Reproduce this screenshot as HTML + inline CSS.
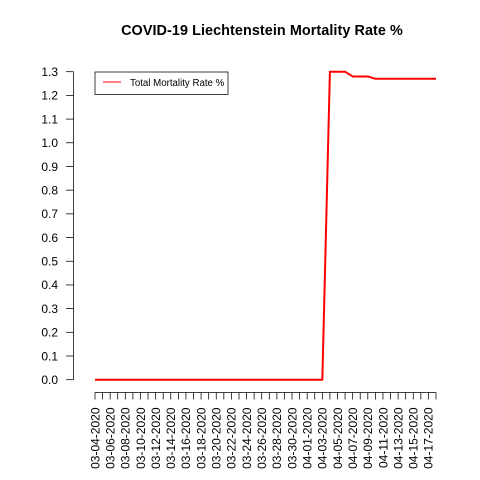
<!DOCTYPE html>
<html>
<head>
<meta charset="utf-8">
<title>COVID-19 Liechtenstein Mortality Rate %</title>
<style>
html,body{margin:0;padding:0;background:#fff;width:480px;height:480px;overflow:hidden}
svg{display:block}
text{font-family:"Liberation Sans",sans-serif;fill:#000}
</style>
</head>
<body>
<svg id="chart" xmlns="http://www.w3.org/2000/svg" width="480" height="480" viewBox="0 0 480 480">
<rect x="0" y="0" width="480" height="480" fill="#fff"/>
<text x="262" y="35" text-anchor="middle" font-size="14.4" font-weight="bold" letter-spacing="0.07">COVID-19 Liechtenstein Mortality Rate %</text>
<g id="y-axis"></g>
<g id="x-axis"></g>
<g id="series"></g>
<g>
<rect x="95" y="72" width="133" height="22.5" fill="#fff" stroke="#000" stroke-width="0.75"/>
<line x1="103" y1="82" x2="121" y2="82" stroke="#ff0000" stroke-width="1"/>
<text x="130" y="86" font-size="9.7">Total Mortality Rate %</text>
</g>
</svg>
<script>
const dates = ["03-04-2020","03-05-2020","03-06-2020","03-07-2020","03-08-2020","03-09-2020","03-10-2020","03-11-2020","03-12-2020","03-13-2020","03-14-2020","03-15-2020","03-16-2020","03-17-2020","03-18-2020","03-19-2020","03-20-2020","03-21-2020","03-22-2020","03-23-2020","03-24-2020","03-25-2020","03-26-2020","03-27-2020","03-28-2020","03-29-2020","03-30-2020","03-31-2020","04-01-2020","04-02-2020","04-03-2020","04-04-2020","04-05-2020","04-06-2020","04-07-2020","04-08-2020","04-09-2020","04-10-2020","04-11-2020","04-12-2020","04-13-2020","04-14-2020","04-15-2020","04-16-2020","04-17-2020","04-18-2020"];
const mortalityRate = [0,0,0,0,0,0,0,0,0,0,0,0,0,0,0,0,0,0,0,0,0,0,0,0,0,0,0,0,0,0,0,1.3,1.3,1.3,1.28,1.28,1.28,1.27,1.27,1.27,1.27,1.27,1.27,1.27,1.27,1.27];
const yTickLabels = ["0.0","0.1","0.2","0.3","0.4","0.5","0.6","0.7","0.8","0.9","1.0","1.1","1.2","1.3"];

const NS = "http://www.w3.org/2000/svg";
const xStart = 95, xEnd = 436, yZero = 379.7, yTop = 71.7, yMax = 1.3;
const axisX = 73.5, axisY = 392.5;
function xScale(i) { return xStart + (xEnd - xStart) * i / (dates.length - 1); }
function yScale(v) { return yZero - (yZero - yTop) * v / yMax; }
function make(tag, attrs, parent) {
  const el = document.createElementNS(NS, tag);
  for (const k in attrs) el.setAttribute(k, attrs[k]);
  parent.appendChild(el);
  return el;
}

const yAxis = document.getElementById("y-axis");
const yLine = make("line", {x1: axisX, x2: axisX, y1: yScale(+yTickLabels[yTickLabels.length - 1]), y2: yScale(+yTickLabels[0]), stroke: "#000", "stroke-width": 0.75}, yAxis);


yTickLabels.forEach(function (label) {
  const y = yScale(+label);
  const tick = make("line", {x1: axisX - 7.5, x2: axisX, y1: y, y2: y, stroke: "#000", "stroke-width": 0.75}, yAxis);
  
  
  const text = make("text", {x: 58, y: y + 4.3, "text-anchor": "end", "font-size": 12}, yAxis);
  
  
  text.textContent = label;
});

const xAxis = document.getElementById("x-axis");
const xLine = make("line", {x1: xScale(0), x2: xScale(dates.length - 1), y1: axisY, y2: axisY, stroke: "#000", "stroke-width": 0.75}, xAxis);


dates.forEach(function (d, i) {
  const x = xScale(i);
  const tick = make("line", {x1: x, x2: x, y1: axisY, y2: axisY + 7, stroke: "#000", "stroke-width": 0.75}, xAxis);
  
  
  if (i % 2 === 0) {
    const tx = x + 4.3, ty = 407.5;
    const text = make("text", {x: tx, y: ty, "text-anchor": "end", "font-size": 12, transform: "rotate(-90 " + tx + " " + ty + ")"}, xAxis);
    
    
    text.textContent = d;
  }
});

const series = document.getElementById("series");
const points = mortalityRate.map(function (v, i) { return xScale(i) + "," + yScale(v); }).join(" ");
const line = make("polyline", {points: points, fill: "none", stroke: "#ff0000", "stroke-width": 2, "stroke-linejoin": "round"}, series);


</script>
</body>
</html>
